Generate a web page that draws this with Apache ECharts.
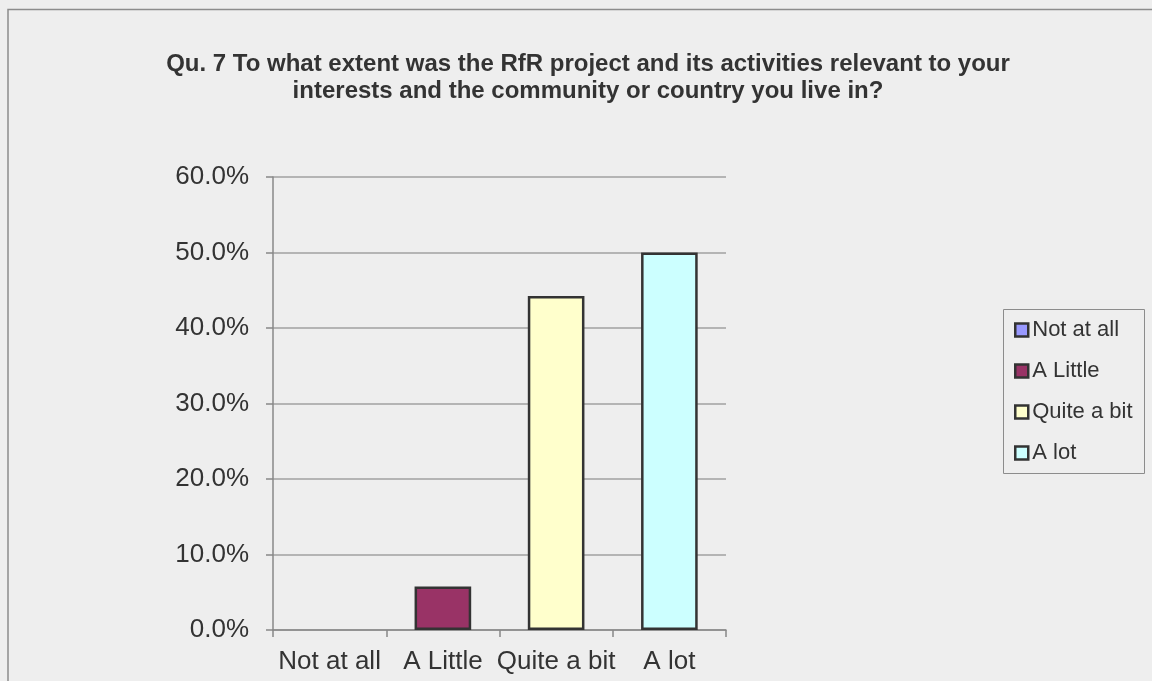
<!DOCTYPE html>
<html>
<head>
<meta charset="utf-8">
<script src="https://cdn.jsdelivr.net/npm/echarts@6/dist/echarts.min.js"></script>
<style>
  html, body { margin: 0; padding: 0; background: #eeeeee; }
  #chart { width: 1152px; height: 681px; }
</style>
</head>
<body>
<div id="chart"></div>
<script>
// Survey responses for question 7 (share of respondents, %)
const categories = ['Not at all', 'A Little', 'Quite a bit', 'A lot'];
const values = [0, 5.77, 44.23, 50.0];
const colors = ['#9999ff', '#993366', '#ffffcc', '#ccffff'];
const yTicks = { min: 0, max: 60, interval: 10 };
const titleLines = [
  'Qu. 7 To what extent was the RfR project and its activities relevant to your',
  'interests and the community or country you live in?'
];

const chart = echarts.init(document.getElementById('chart'), null, { renderer: 'canvas' });
const FONT = '"Liberation Sans", Arial, sans-serif';

// One series per answer, stacked so each bar sits centred on its own category
const series = categories.map((name, i) => ({
  name: name,
  type: 'bar',
  stack: 'answers',
  barWidth: '50%',
  data: values.map((v, j) => (j === i ? v : '-')),
  itemStyle: {
    color: colors[i],
    borderColor: '#333333',
    borderWidth: values[i] === 0 ? 0 : 2.5
  },
  emphasis: { disabled: true }
}));

chart.setOption({
  backgroundColor: '#eeeeee',
  animation: false,
  textStyle: { fontFamily: FONT },
  title: {
    text: titleLines.join('\n'),
    left: 583,
    top: 46,
    textAlign: 'center',
    textStyle: {
      fontFamily: FONT,
      fontSize: 24,
      fontWeight: 'bold',
      color: '#333333',
      lineHeight: 27,
      align: 'center'
    }
  },
  legend: {
    orient: 'vertical',
    left: 1014,
    top: 319,
    padding: 0,
    itemWidth: 13,
    itemHeight: 13,
    itemGap: 19,
    icon: 'rect',
    selectedMode: false,
    data: categories,
    itemStyle: { borderColor: '#333333', borderWidth: 2.5 },
    textStyle: { fontFamily: FONT, fontSize: 22, color: '#333333', lineHeight: 22, padding: [0, 0, 0, -1] }
  },
  grid: { left: 273, right: 426, top: 177, bottom: 51, containLabel: false },
  xAxis: {
    type: 'category',
    data: categories,
    boundaryGap: true,
    axisLine: { show: true, lineStyle: { color: '#888888', width: 1.5 } },
    axisTick: { show: true, length: 7, inside: false, alignWithLabel: false, lineStyle: { color: '#888888', width: 1.5 } },
    axisLabel: { fontFamily: FONT, fontSize: 26, color: '#333333', margin: 19, interval: 0 },
    splitLine: { show: false }
  },
  yAxis: {
    type: 'value',
    min: yTicks.min,
    max: yTicks.max,
    interval: yTicks.interval,
    axisLine: { show: true, lineStyle: { color: '#888888', width: 1.5 } },
    axisTick: { show: true, length: 7, inside: false, lineStyle: { color: '#888888', width: 1.5 } },
    axisLabel: {
      fontFamily: FONT, fontSize: 26, color: '#333333', margin: 24,
      padding: [4, 0, 0, 0],
      formatter: v => v.toFixed(1) + '%'
    },
    splitLine: { show: true, lineStyle: { color: '#a0a0a0', width: 1.5 } }
  },
  graphic: [
    {
      // outer chart frame
      type: 'rect',
      silent: true,
      shape: { x: 8, y: 9.5, width: 1200, height: 720 },
      style: { fill: null, stroke: '#8c8c8c', lineWidth: 1.5 }
    },
    {
      // legend frame
      type: 'rect',
      silent: true,
      shape: { x: 1003.5, y: 309.5, width: 141, height: 164 },
      style: { fill: null, stroke: '#8c8c8c', lineWidth: 1 }
    }
  ],
  series: series
});
</script>
</body>
</html>
